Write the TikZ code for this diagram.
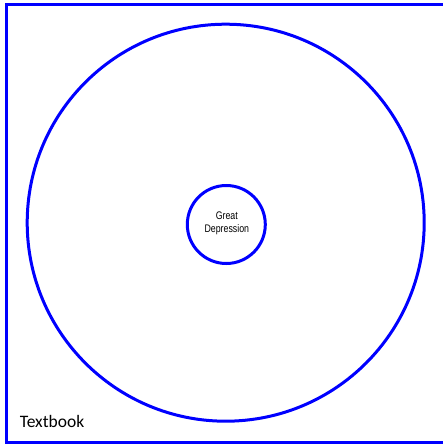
\documentclass[tikz,border=0pt]{standalone}
\usepackage{fontspec}
\setmainfont{Carlito}
\newfontfamily\arialfont[FakeStretch=0.8]{Liberation Sans}
\begin{document}
\begin{tikzpicture}[x=1pt,y=-1pt,line width=3pt]
	\useasboundingbox (0,0)rectangle(443,444);
	\tikzset{vong/.style={draw=blue,circle,inner sep=0pt}}
	\draw[blue](450,5)--(6.5,5)--(6.5,442.5)--(450,442.5);
	\node[vong,minimum size=397pt](ngoai) at (225.7,222.7){};
	\node[vong,minimum size=78pt](dep) at (226.3,224.5){};
	\node[align=center,inner sep=0pt,font=\arialfont\fontsize{11}{13.3}\selectfont](deptext) at (226.8,223.5){Great\\Depression};
	\node[anchor=base west,inner sep=0pt,font=\fontsize{17.5}{21}\selectfont](textbook) at (18.3,427.3){Textbook};
\end{tikzpicture}
\end{document}
